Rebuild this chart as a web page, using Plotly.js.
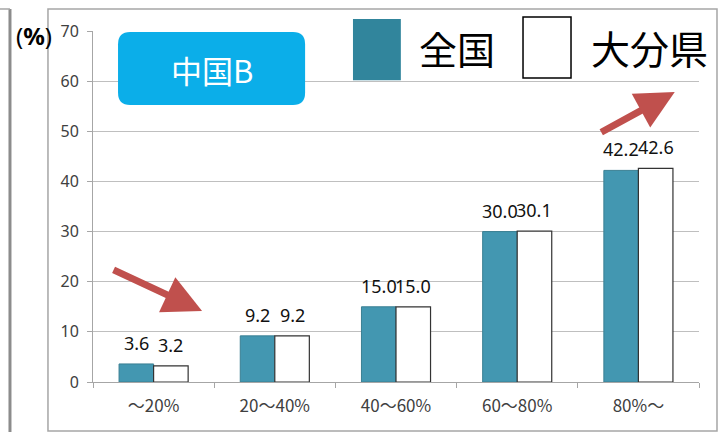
<!DOCTYPE html>
<html>
<head>
<meta charset="utf-8">
<script src="https://cdn.plot.ly/plotly-3.0.1.min.js"></script>
<style>html,body{margin:0;padding:0;background:#fff;}#chart{width:726px;height:432px;}</style>
</head>
<body>
<div id="chart"></div>
<script>
// ---- data ----
const categories = ['～20%', '20～40%', '40～60%', '60～80%', '80%～'];
const nationalValues = [3.6, 9.2, 15.0, 30.0, 42.2];
const oitaValues = [3.2, 9.2, 15.0, 30.1, 42.6];
const seriesNames = ['全国', '大分県'];
const yTicks = [0, 10, 20, 30, 40, 50, 60, 70];

// ---- styles ----
const tealBar = '#4397B1';
const tealLegend = '#31859C';
const arrowRed = '#C0504D';
const jp = '"Noto Sans CJK JP", "Noto Sans", sans-serif';
const num = '"Noto Sans", "DejaVu Sans", sans-serif';
const BARGAP = 0.43;
const half = (1 - BARGAP) / 4; // bar centre offset in category units

const traces = [
  {type: 'bar', name: seriesNames[0], x: categories, y: nationalValues,
   marker: {color: tealBar, line: {color: '#3A7F93', width: 1}}, hoverinfo: 'none'},
  {type: 'bar', name: seriesNames[1], x: categories, y: oitaValues,
   marker: {color: '#FFFFFF', line: {color: '#333333', width: 1.2}}, hoverinfo: 'none'}
];

const annotations = [];
categories.forEach((c, i) => {
  annotations.push({xref: 'x', yref: 'y', x: i - half, y: nationalValues[i], text: nationalValues[i].toFixed(1),
    showarrow: false, xanchor: 'center', yanchor: 'bottom', yshift: 7, font: {family: num, size: 18, color: '#111'}});
  annotations.push({xref: 'x', yref: 'y', x: i + half, y: oitaValues[i], text: oitaValues[i].toFixed(1),
    showarrow: false, xanchor: 'center', yanchor: 'bottom', yshift: 7, font: {family: num, size: 18, color: '#111'}});
});
const pa = (x, y, text, font) => ({xref: 'paper', yref: 'paper', x: x, y: y, text: text, showarrow: false,
  xanchor: 'center', yanchor: 'middle', font: font});
// y unit label
annotations.push(pa(-0.0974, 0.986, '(<b>%</b>)', {family: num, size: 24, color: '#000'}));
// badge text
annotations.push(pa(0.196, 0.889, '中国B', {family: jp, size: 31, color: '#FFFFFF'}));
// legend texts
annotations.push(pa(0.6007, 0.954, seriesNames[0], {family: jp, size: 38, color: '#000'}));
annotations.push(pa(0.919, 0.954, seriesNames[1], {family: jp, size: 39, color: '#000'}));
// arrows
annotations.push({xref: 'paper', yref: 'paper', x: 0.180, y: 0.202, ax: -90, ay: -42, text: '',
  showarrow: true, arrowhead: 2, arrowsize: 1.1, arrowwidth: 7, arrowcolor: arrowRed, standoff: 0});
annotations.push({xref: 'paper', yref: 'paper', x: 0.960, y: 0.826, ax: -75, ay: 41, text: '',
  showarrow: true, arrowhead: 2, arrowsize: 1.1, arrowwidth: 7, arrowcolor: arrowRed, standoff: 0});

const bx0 = 0.0413, bx1 = 0.350, by0 = 0.789, by1 = 0.997, rx = 0.02, ry = 0.035;
const badgePath = `M${bx0+rx},${by0} L${bx1-rx},${by0} Q${bx1},${by0} ${bx1},${by0+ry} L${bx1},${by1-ry} Q${bx1},${by1} ${bx1-rx},${by1} L${bx0+rx},${by1} Q${bx0},${by1} ${bx0},${by1-ry} L${bx0},${by0+ry} Q${bx0},${by0} ${bx0+rx},${by0} Z`;

const shapes = [
  // outer frame
  {type: 'rect', xref: 'paper', yref: 'paper', x0: -0.0743, x1: 1.0297, y0: -0.1396, y1: 1.0627,
   line: {color: '#A6A6A6', width: 1.5}, layer: 'below'},
  // left neighbouring frame edge
  {type: 'line', xref: 'paper', yref: 'paper', x0: -0.137, x1: -0.137, y0: -0.2, y1: 1.0627,
   line: {color: '#8C8C8C', width: 3}},
  {type: 'line', xref: 'paper', yref: 'paper', x0: -0.16, x1: -0.137, y0: 1.0627, y1: 1.0627,
   line: {color: '#A6A6A6', width: 1.5}},
  // badge
  {type: 'path', xref: 'paper', yref: 'paper', path: badgePath, fillcolor: '#0BAEE9', line: {width: 0}},
  // legend squares
  {type: 'rect', xref: 'paper', yref: 'paper', x0: 0.429, x1: 0.508, y0: 0.860, y1: 1.034,
   fillcolor: tealLegend, line: {width: 0}},
  {type: 'rect', xref: 'paper', yref: 'paper', x0: 0.7096, x1: 0.7888, y0: 0.866, y1: 1.040,
   fillcolor: '#FFFFFF', line: {color: '#000', width: 1.5}}
];

const layout = {
  width: 726, height: 432,
  margin: {l: 93, r: 27, t: 31, b: 50, pad: 0},
  paper_bgcolor: '#FFFFFF', plot_bgcolor: '#FFFFFF',
  barmode: 'group', bargap: BARGAP, bargroupgap: 0,
  showlegend: false,
  xaxis: {type: 'category', showgrid: false, showline: true, linecolor: '#A6A6A6', linewidth: 1,
    ticks: 'outside', tickson: 'boundaries', ticklen: 5, tickcolor: '#A6A6A6',
    ticklabelstandoff: 9,
    tickfont: {family: jp, size: 17, color: '#404040'}, fixedrange: true},
  yaxis: {range: [0, 70], tickvals: yTicks, ticktext: yTicks.map(String), showgrid: true, gridcolor: '#BFBFBF', gridwidth: 1,
    showline: true, linecolor: '#A6A6A6', linewidth: 1, zeroline: false,
    ticks: 'outside', ticklen: 5, tickcolor: '#A6A6A6', ticklabelstandoff: 5,
    tickfont: {family: num, size: 16, color: '#404040'}, fixedrange: true},
  annotations: annotations,
  shapes: shapes
};

Plotly.newPlot('chart', traces, layout, {displayModeBar: false, staticPlot: true});
</script>
</body>
</html>
